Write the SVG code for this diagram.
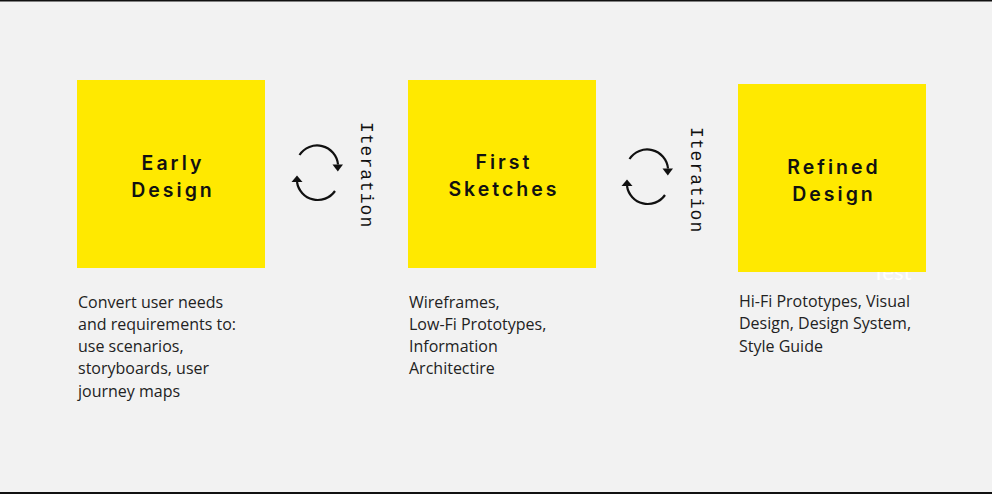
<svg xmlns="http://www.w3.org/2000/svg" width="992" height="494" viewBox="0 0 992 494">
<style>
.box{fill:#FFE900}
.head{font-family:Inter,"DejaVu Sans",sans-serif;font-weight:600;font-size:19.5px;letter-spacing:3px;fill:#111;text-anchor:middle}
.desc{font-family:"Open Sans","Noto Sans",sans-serif;font-size:16px;fill:#222}
.iter{font-family:"Liberation Mono","DejaVu Sans Mono",monospace;font-size:18px;letter-spacing:1px;fill:#111}
.arc{fill:none;stroke:#111;stroke-width:2.2}
.tip{fill:#111}
</style>
<rect x="0" y="0" width="992" height="494" fill="#F2F2F2"/>
<rect x="0" y="0" width="992" height="1.5" fill="#111"/>
<rect x="0" y="492" width="992" height="2" fill="#111"/>

<text x="872" y="280" font-family="Lato,sans-serif" font-size="22" fill="#FFFFFF">Test</text>

<g id="node-early">
<rect class="box" x="77" y="80" width="188" height="188"/>
<text class="head" x="173" y="170">Early</text>
<text class="head" x="173" y="197">Design</text>
</g>
<g id="node-sketches">
<rect class="box" x="408" y="80" width="188" height="188"/>
<text class="head" x="504" y="169">First</text>
<text class="head" x="504" y="196">Sketches</text>
</g>
<g id="node-refined">
<rect class="box" x="738" y="84" width="188" height="188"/>
<text class="head" x="834" y="174">Refined</text>
<text class="head" x="834" y="201">Design</text>
</g>

<g id="desc-early" class="desc">
<text x="78" y="307.5">Convert user needs</text>
<text x="78" y="329.8">and requirements to:</text>
<text x="78" y="352.1">use scenarios,</text>
<text x="78" y="374.4">storyboards, user</text>
<text x="78" y="396.7">journey maps</text>
</g>
<g id="desc-sketches" class="desc">
<text x="409" y="307.5">Wireframes,</text>
<text x="409" y="329.8">Low-Fi Prototypes,</text>
<text x="409" y="352.1">Information</text>
<text x="409" y="374.4">Architectire</text>
</g>
<g id="desc-refined" class="desc">
<text x="739" y="307">Hi-Fi Prototypes, Visual</text>
<text x="739" y="329.3">Design, Design System,</text>
<text x="739" y="351.6">Style Guide</text>
</g>

<g id="connectors">
<g id="iter1">
<path class="arc" d="M299.5,155 A21 21 0 0 1 338,164.5"/>
<polygon class="tip" points="332.5,164.5 343,164.5 337.8,171.5"/>
<path class="arc" d="M335,191 A21 21 0 0 1 297,182"/>
<polygon class="tip" points="291.5,182 302.5,182 297,175.5"/>
<text class="iter" transform="translate(361,122) rotate(90)">Iteration</text>
</g>
<g id="iter2">
<path class="arc" d="M629.5,159 A21 21 0 0 1 668,168.5"/>
<polygon class="tip" points="662.5,168.5 673,168.5 667.8,175.5"/>
<path class="arc" d="M665,195 A21 21 0 0 1 627,186"/>
<polygon class="tip" points="621.5,186 632.5,186 627,179.5"/>
<text class="iter" transform="translate(691,127) rotate(90)">Iteration</text>
</g>
</g>
</svg>
